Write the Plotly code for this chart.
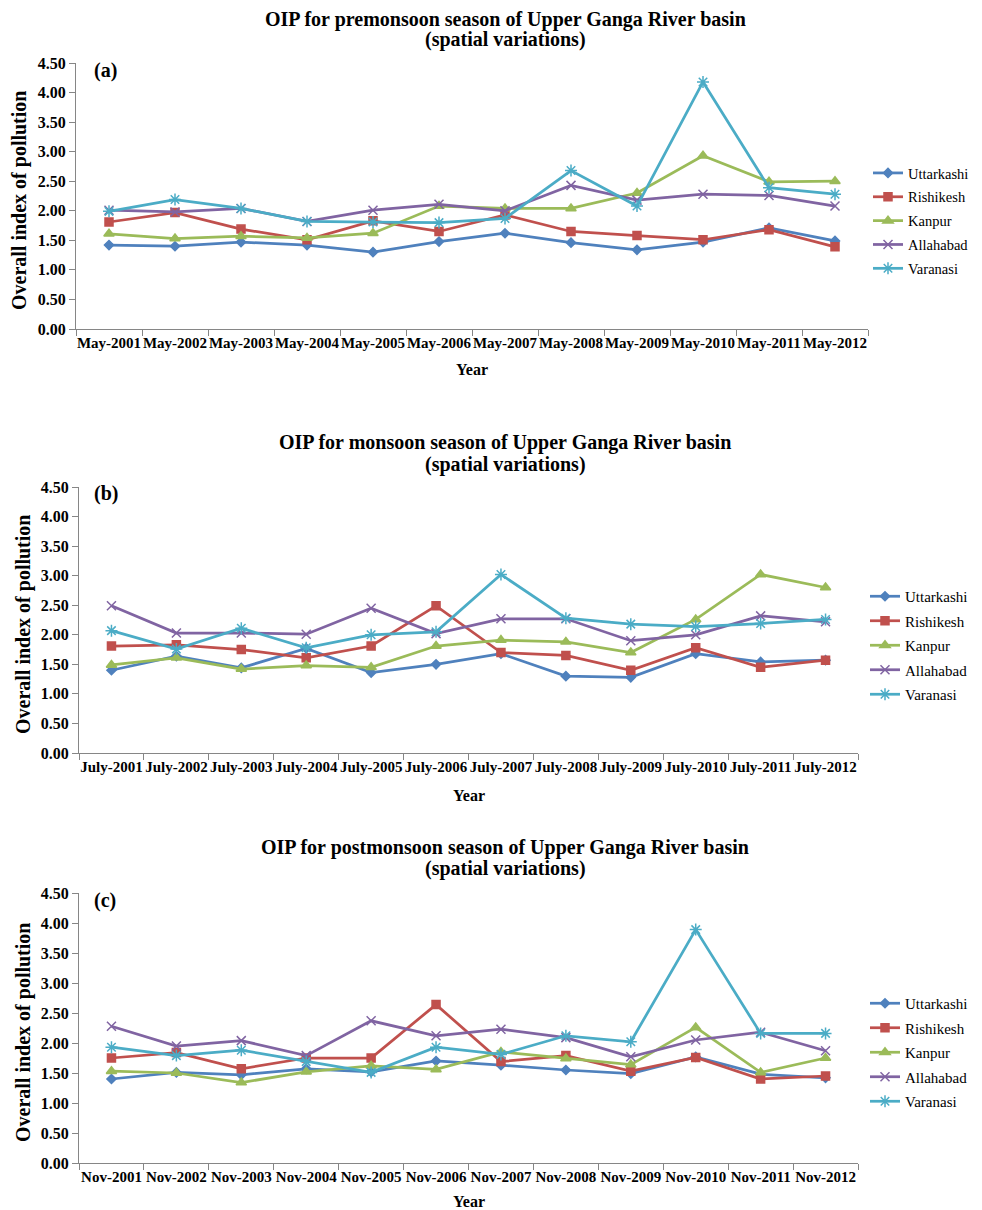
import plotly.graph_objects as go

# ---------------- data ----------------
years = ["2001", "2002", "2003", "2004", "2005", "2006",
         "2007", "2008", "2009", "2010", "2011", "2012"]
pre_labels = ["May-" + y for y in years]
mon_labels = ["July-" + y for y in years]
post_labels = ["Nov-" + y for y in years]

stations = ["Uttarkashi", "Rishikesh", "Kanpur", "Allahabad", "Varanasi"]

# (a) premonsoon
pre_uttarkashi = [1.42, 1.40, 1.47, 1.42, 1.30, 1.48, 1.62, 1.46, 1.34, 1.47, 1.71, 1.49]
pre_rishikesh = [1.81, 1.97, 1.69, 1.51, 1.83, 1.65, 1.93, 1.65, 1.58, 1.51, 1.68, 1.39]
pre_kanpur = [1.61, 1.53, 1.57, 1.54, 1.62, 2.08, 2.04, 2.04, 2.30, 2.93, 2.49, 2.50]
pre_allahabad = [2.01, 1.98, 2.04, 1.82, 2.01, 2.11, 2.00, 2.43, 2.18, 2.28, 2.26, 2.08]
pre_varanasi = [1.99, 2.19, 2.04, 1.82, 1.81, 1.80, 1.87, 2.68, 2.08, 4.18, 2.39, 2.28]

# (b) monsoon
mon_uttarkashi = [1.40, 1.64, 1.44, 1.77, 1.36, 1.50, 1.68, 1.30, 1.28, 1.68, 1.54, 1.57]
mon_rishikesh = [1.81, 1.83, 1.75, 1.61, 1.81, 2.49, 1.70, 1.65, 1.40, 1.78, 1.45, 1.57]
mon_kanpur = [1.49, 1.61, 1.42, 1.48, 1.45, 1.81, 1.91, 1.88, 1.70, 2.26, 3.02, 2.80]
mon_allahabad = [2.49, 2.03, 2.03, 2.01, 2.45, 2.02, 2.27, 2.27, 1.90, 2.00, 2.32, 2.22]
mon_varanasi = [2.07, 1.76, 2.11, 1.78, 2.00, 2.05, 3.02, 2.28, 2.18, 2.14, 2.19, 2.26]

# (c) postmonsoon
post_uttarkashi = [1.40, 1.51, 1.47, 1.57, 1.52, 1.70, 1.63, 1.55, 1.49, 1.77, 1.48, 1.42]
post_rishikesh = [1.75, 1.84, 1.57, 1.75, 1.75, 2.64, 1.69, 1.79, 1.53, 1.76, 1.40, 1.45]
post_kanpur = [1.53, 1.50, 1.34, 1.52, 1.62, 1.56, 1.85, 1.74, 1.64, 2.26, 1.51, 1.75]
post_allahabad = [2.28, 1.95, 2.04, 1.79, 2.37, 2.12, 2.23, 2.09, 1.77, 2.05, 2.18, 1.87]
post_varanasi = [1.93, 1.79, 1.88, 1.69, 1.51, 1.93, 1.81, 2.12, 2.02, 3.89, 2.16, 2.16]

y_ticks = [0.0, 0.5, 1.0, 1.5, 2.0, 2.5, 3.0, 3.5, 4.0, 4.5]

# ---------------- styles ----------------
OFF = 8                       # default page body margin of the html page
W, H = 982 - OFF, 1210 - OFF  # figure size so it fits the window
SERIF = "Liberation Serif"
colors = ["#4F81BD", "#C0504D", "#9BBB59", "#8064A2", "#4BACC6"]
symbols = ["diamond", "square", "triangle-up", "x-thin", "asterisk"]
msizes = [7, 8, 9, 9, 10]
AXIS_GRAY = "#868686"


def fx(px):
    return (px - OFF) / W


def fy(py):
    return 1 - (py - OFF) / H


panels = [
    dict(labels=pre_labels,
         series=[pre_uttarkashi, pre_rishikesh, pre_kanpur, pre_allahabad, pre_varanasi],
         title1="OIP for premonsoon season of Upper Ganga River basin",
         x0=76, x1=868, ytop=63, ybot=329, t1=20, t2=40, tag="(a)", tagy=71,
         legx=868, legsize=14.5, legy=157, ytx=20, year_y=370),
    dict(labels=mon_labels,
         series=[mon_uttarkashi, mon_rishikesh, mon_kanpur, mon_allahabad, mon_varanasi],
         title1="OIP for monsoon season of Upper Ganga River basin",
         x0=79, x1=858, ytop=487, ybot=753, t1=442, t2=464, tag="(b)", tagy=494,
         legx=865, legsize=15, legy=580, ytx=23, year_y=795),
    dict(labels=post_labels,
         series=[post_uttarkashi, post_rishikesh, post_kanpur, post_allahabad, post_varanasi],
         title1="OIP for postmonsoon season of Upper Ganga River basin",
         x0=79, x1=858, ytop=893, ybot=1163, t1=847, t2=868, tag="(c)", tagy=900,
         legx=865, legsize=15, legy=987, ytx=23, year_y=1201),
]

fig = go.Figure()
annotations = []
layout = {}

for i, p in enumerate(panels):
    n = "" if i == 0 else str(i + 1)
    xa, ya = "x" + n, "y" + n
    leg = "legend" + n
    for s in range(5):
        fig.add_trace(go.Scatter(
            x=p["labels"], y=p["series"][s], name=stations[s],
            xaxis=xa, yaxis=ya, legend=leg, legendgroup=f"{i}-{s}",
            mode="lines+markers",
            line=dict(color=colors[s], width=2.75),
            marker=dict(symbol=symbols[s], size=msizes[s], color=colors[s],
                        line=dict(color=colors[s], width=1.5)),
        ))
    layout["xaxis" + n] = dict(
        domain=[fx(p["x0"]), fx(p["x1"])], anchor=ya, type="category",
        range=[-0.5, 11.5], showline=True, linecolor=AXIS_GRAY, linewidth=1,
        ticks="outside", tickson="boundaries", ticklen=6, tickcolor=AXIS_GRAY,
        showgrid=False, zeroline=False, tickangle=0, automargin=False,
        tickfont=dict(family=SERIF, size=15, color="#000000", weight="bold"),
    )
    layout["yaxis" + n] = dict(
        domain=[fy(p["ybot"]), fy(p["ytop"])], anchor=xa,
        range=[0, 4.5], tickvals=y_ticks, tickformat=".2f",
        showline=True, linecolor=AXIS_GRAY, linewidth=1,
        ticks="outside", ticklen=6, tickcolor=AXIS_GRAY,
        showgrid=False, zeroline=False, automargin=False,
        tickfont=dict(family=SERIF, size=16, color="#000000", weight="bold"),
    )
    layout[leg] = dict(
        x=fx(p["legx"]), y=fy(p["legy"]), xanchor="left", yanchor="top",
        xref="paper", yref="paper", bgcolor="rgba(0,0,0,0)",
        font=dict(family=SERIF, size=p["legsize"], color="#000000"),
        tracegroupgap=2, itemwidth=30,
    )
    tcx = 505
    annotations += [
        dict(text="<b>" + p["title1"] + "</b>", x=fx(tcx), y=fy(p["t1"]),
             xref="paper", yref="paper", xanchor="center", yanchor="middle",
             showarrow=False, font=dict(family=SERIF, size=20, color="#000000")),
        dict(text="<b>(spatial variations)</b>", x=fx(tcx), y=fy(p["t2"]),
             xref="paper", yref="paper", xanchor="center", yanchor="middle",
             showarrow=False, font=dict(family=SERIF, size=20, color="#000000")),
        dict(text="<b>" + p["tag"] + "</b>", x=fx(92), y=fy(p["tagy"]),
             xref="paper", yref="paper", xanchor="left", yanchor="middle",
             showarrow=False, font=dict(family=SERIF, size=20, color="#000000")),
        dict(text="<b>Overall index of pollution</b>", x=fx(p["ytx"]),
             y=fy((p["ytop"] + p["ybot"]) / 2 + 5),
             xref="paper", yref="paper", xanchor="center", yanchor="middle",
             textangle=-90, showarrow=False,
             font=dict(family=SERIF, size=20, color="#000000")),
        dict(text="<b>Year</b>", x=fx((p["x0"] + p["x1"]) / 2), y=fy(p["year_y"]),
             xref="paper", yref="paper", xanchor="center", yanchor="middle",
             showarrow=False, font=dict(family=SERIF, size=16, color="#000000")),
    ]

fig.update_layout(
    width=W, height=H,
    margin=dict(l=0, r=0, t=0, b=0, pad=0, autoexpand=False),
    paper_bgcolor="white", plot_bgcolor="white",
    showlegend=True,
    annotations=annotations,
    **layout,
)

fig.write_html("out.html")
